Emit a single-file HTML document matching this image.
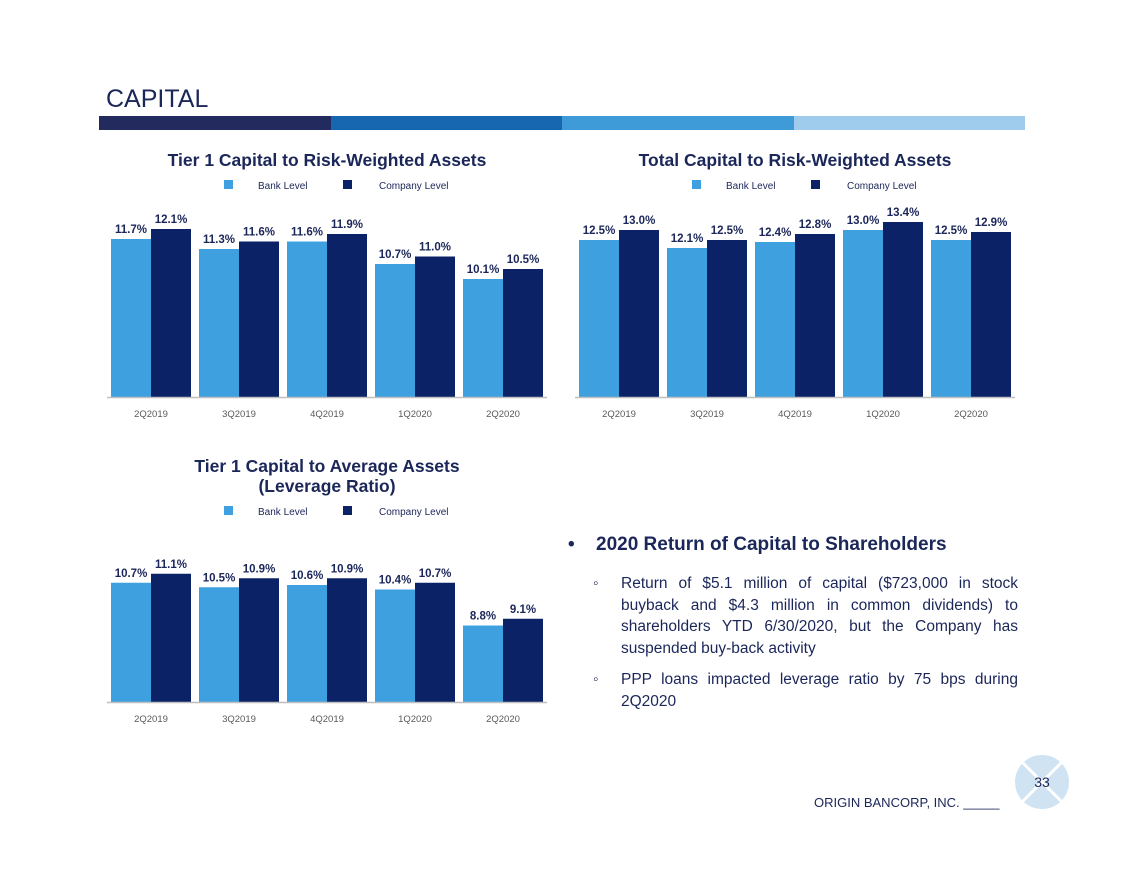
<!DOCTYPE html>
<html><head><meta charset="utf-8">
<style>
body{margin:0;background:#fff;font-family:"Liberation Sans",sans-serif;}
#page{position:relative;width:1131px;height:871px;overflow:hidden;}
.abs{position:absolute;}
</style></head>
<body>
<div id="page">
<div class="abs" style="left:106px;top:85px;font-size:25px;color:#1b2659;">CAPITAL</div>
<div class="abs" style="left:99px;top:116px;width:926px;height:14px;display:flex;">
<div style="flex:1;background:#232a5e"></div><div style="flex:1;background:#1767b0"></div><div style="flex:1;background:#3f9ad8"></div><div style="flex:1;background:#9fcbec"></div></div>
<svg id="charts" class="abs" style="left:0;top:0" width="1131" height="740"></svg>
<div class="abs" style="left:568px;top:534px;width:450px;color:#1b2659;">
<div style="font-size:19px;font-weight:bold;"><span style="display:inline-block;width:28px;">•</span>2020 Return of Capital to Shareholders</div>
<div style="position:relative;padding-left:53px;margin-top:17px;font-size:15.5px;line-height:21.5px;text-align:justify;"><span style="position:absolute;left:25px;">◦</span>Return of $5.1 million of capital ($723,000 in stock buyback and $4.3 million in common dividends) to shareholders YTD 6/30/2020, but the Company has suspended buy-back activity</div>
<div style="position:relative;padding-left:53px;margin-top:10px;font-size:15.5px;line-height:21.5px;text-align:justify;"><span style="position:absolute;left:25px;">◦</span>PPP loans impacted leverage ratio by 75 bps during 2Q2020</div>
</div>
<div class="abs" style="left:814px;top:795px;font-size:13px;color:#1b2659;">ORIGIN BANCORP, INC. _____</div>
<svg class="abs" style="left:1014px;top:754px" width="56" height="56">
<circle cx="28" cy="28" r="27" fill="#cfe3f3"/>
<line x1="8" y1="8" x2="48" y2="48" stroke="#fff" stroke-width="3"/><line x1="48" y1="8" x2="8" y2="48" stroke="#fff" stroke-width="3"/>
<text x="28" y="33" text-anchor="middle" font-size="14" fill="#1b2659">33</text>
</svg>
</div>
<script>
const categories=["2Q2019","3Q2019","4Q2019","1Q2020","2Q2020"];
const tier1Bank=[11.7,11.3,11.6,10.7,10.1];
const tier1Company=[12.1,11.6,11.9,11.0,10.5];
const totalBank=[12.5,12.1,12.4,13.0,12.5];
const totalCompany=[13.0,12.5,12.8,13.4,12.9];
const levBank=[10.7,10.5,10.6,10.4,8.8];
const levCompany=[11.1,10.9,10.9,10.7,9.1];
const NS="http://www.w3.org/2000/svg";
const svg=document.getElementById('charts');
function mk(tag,attrs,parent){const e=document.createElementNS(NS,tag);for(const k in attrs)e.setAttribute(k,attrs[k]);(parent||svg).appendChild(e);return e;}
function chart(cfg,bank,comp,key){
  const g=mk('g',{});
  
  
  cfg.titles.forEach((t,i)=>{const tx=mk('text',{x:cfg.cx,y:cfg.titleY+i*20,'text-anchor':'middle','font-size':17.5,'font-weight':'bold',fill:'#1b2659'},g);tx.textContent=t;
    
    });
  const ly=cfg.legY;
  const l1=mk('rect',{x:cfg.cx-103,y:ly-5,width:9,height:9,fill:'#3fa0df'},g);
  
  
  const t1=mk('text',{x:cfg.cx-69,y:ly+4,'font-size':10,fill:'#1b2659'},g);t1.textContent='Bank Level';
  
  
  const l2=mk('rect',{x:cfg.cx+16,y:ly-5,width:9,height:9,fill:'#0c2266'},g);
  
  
  const t2=mk('text',{x:cfg.cx+52,y:ly+4,'font-size':10,fill:'#1b2659'},g);t2.textContent='Company Level';
  
  
  const y=v=>cfg.base-(v-cfg.v0)*cfg.ppu;
  categories.forEach((c,i)=>{
    const cx=cfg.x0+i*88;
    [[bank[i],cx-40,'#3fa0df','bank'],[comp[i],cx,'#0c2266','company']].forEach(([v,x,col,s])=>{
      const r=mk('rect',{x:x,y:y(v),width:40,height:cfg.base-y(v),fill:col},g);
      
      
      const lb=mk('text',{x:x+20,y:y(v)-6,'text-anchor':'middle','font-size':11.5,'font-weight':'bold',fill:'#1b2659'},g);
      lb.textContent=v.toFixed(1)+'%';
      
      
    });
    const ct=mk('text',{x:cx,y:cfg.base+20,'text-anchor':'middle','font-size':9.5,fill:'#595959'},g);
    ct.textContent=c;
    
    
  });
  const ax=mk('line',{x1:cfg.x0-44,x2:cfg.x0+4*88+44,y1:cfg.base+0.5,y2:cfg.base+0.5,stroke:'#bfbfbf','stroke-width':1.5},g);
  
  
}
chart({cx:327,titles:['Tier 1 Capital to Risk-Weighted Assets'],titleY:166,legY:185,x0:151,base:397,v0:5.38,ppu:25},tier1Bank,tier1Company,'tier1-rwa');
chart({cx:795,titles:['Total Capital to Risk-Weighted Assets'],titleY:166,legY:185,x0:619,base:397,v0:4.65,ppu:20},totalBank,totalCompany,'total-rwa');
chart({cx:327,titles:['Tier 1 Capital to Average Assets','(Leverage Ratio)'],titleY:472,legY:511,x0:151,base:702,v0:5.4,ppu:22.5},levBank,levCompany,'leverage');
</script>
</body></html>
